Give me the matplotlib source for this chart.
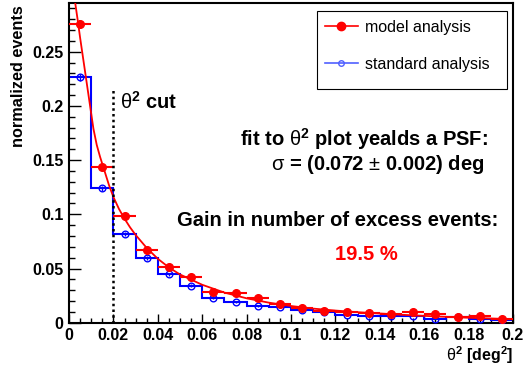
import numpy as np
import matplotlib
matplotlib.use("Agg")
import matplotlib.pyplot as plt
from matplotlib.ticker import MultipleLocator, FuncFormatter
from matplotlib.lines import Line2D
from matplotlib.patches import Rectangle

plt.rcParams["font.family"] = "Liberation Sans"
plt.rcParams["mathtext.fontset"] = "custom"
plt.rcParams["mathtext.rm"] = "Liberation Sans"
plt.rcParams["mathtext.bf"] = "Liberation Sans:bold"
plt.rcParams["mathtext.it"] = "Liberation Sans:italic"

# theta^2 bins (width 0.01 deg^2)
bin_edges = np.linspace(0, 0.2, 21)
bin_centers = 0.5 * (bin_edges[:-1] + bin_edges[1:])

model_vals = [0.2755, 0.1433, 0.098, 0.0667, 0.051, 0.0418, 0.0286, 0.0277, 0.0231, 0.0169,
              0.0138, 0.0104, 0.0102, 0.0086, 0.008, 0.0095, 0.0077, 0.0053, 0.0062, 0.0037]
model_err = [0.004, 0.003, 0.0025, 0.002, 0.0018, 0.0016, 0.0014, 0.0013, 0.0012, 0.0011,
             0.001, 0.0009, 0.0009, 0.0008, 0.0008, 0.0008, 0.0007, 0.0007, 0.0007, 0.0006]

standard_vals = [0.2263, 0.1239, 0.0818, 0.060, 0.0446, 0.0341, 0.0228, 0.0191, 0.0157, 0.0141,
                 0.012, 0.0099, 0.0074, 0.0065, 0.0065, 0.0065, 0.0037, 0.0049, 0.0034, 0.0028]
standard_err = [0.0035, 0.0025, 0.002, 0.0017, 0.0015, 0.0013, 0.0011, 0.001, 0.0009, 0.0009,
                0.0008, 0.0008, 0.0007, 0.0007, 0.0007, 0.0007, 0.0006, 0.0006, 0.0006, 0.0006]

# fitted PSF curve
fit_x = [0.0028, 0.004, 0.005, 0.0065, 0.008, 0.01, 0.011, 0.0125, 0.014, 0.016, 0.018, 0.02,
         0.0225, 0.025, 0.0275, 0.03, 0.035, 0.04, 0.045, 0.05, 0.06, 0.07, 0.08, 0.09, 0.1,
         0.11, 0.12, 0.13, 0.14, 0.15, 0.16, 0.17, 0.18, 0.19, 0.2]
fit_y = [0.295, 0.278, 0.263, 0.242, 0.221, 0.193, 0.179, 0.164, 0.153, 0.140, 0.127, 0.116,
         0.105, 0.096, 0.088, 0.081, 0.069, 0.059, 0.051, 0.0445, 0.035, 0.0278, 0.0225, 0.0185, 0.0154,
         0.013, 0.0112, 0.0097, 0.0085, 0.0073, 0.0063, 0.0054, 0.0046, 0.0039, 0.0032]

theta2_cut = 0.02
W, H = 527, 366


def fx(px):
    return px / W


def fy(py):
    return 1 - py / H


fig = plt.figure(figsize=(W / 100, H / 100), dpi=100)
ax = fig.add_axes([fx(69), fy(322.7), (513 - 69) / W, (322.7 - 3) / H])

ax.stairs(standard_vals, bin_edges, baseline=None, color="blue", lw=1.5, zorder=2)
ax.errorbar(bin_centers, standard_vals, yerr=standard_err, fmt="o", mfc="none", mec="blue",
            ecolor="blue", ms=4.8, mew=1, elinewidth=1, capsize=0, zorder=3)
ax.errorbar(bin_centers, model_vals, xerr=0.005, yerr=model_err, fmt="o", color="red",
            ms=5.5, elinewidth=1.5, capsize=0, zorder=4)
ax.plot(fit_x, fit_y, color="red", lw=1.3, zorder=5)
ax.vlines(theta2_cut, 0, 0.216, colors="black", linestyles=(0, (1, 1.3)), lw=1.8, zorder=6)

ax.set_xlim(0, 0.2)
ax.set_ylim(0, 0.295)
ax.xaxis.set_major_locator(MultipleLocator(0.02))
ax.xaxis.set_minor_locator(MultipleLocator(0.005))
ax.yaxis.set_major_locator(MultipleLocator(0.05))
ax.yaxis.set_minor_locator(MultipleLocator(0.01))
fmt = FuncFormatter(lambda v, p: "%g" % round(v, 4))
ax.xaxis.set_major_formatter(fmt)
ax.yaxis.set_major_formatter(fmt)
ax.tick_params(which="both", direction="in", width=1, labelsize=11.5)
ax.tick_params(axis="y", which="major", length=8.5, pad=4)
ax.tick_params(axis="y", which="minor", length=4.3)
ax.tick_params(axis="x", which="major", length=6.5, pad=3.5)
ax.tick_params(axis="x", which="minor", length=3.5)
for lab in ax.get_xticklabels() + ax.get_yticklabels():
    lab.set_fontweight("bold")
for sp in ax.spines.values():
    sp.set_linewidth(1.5)

fig.text(fx(18.5), fy(5), "normalized events", rotation=90, ha="center", va="top",
         fontsize=11.7, fontweight="bold")
fig.text(fx(513), fy(361), r"$\mathrm{\theta}^{\mathbf{2}}$ [deg$^{\mathbf{2}}$]", ha="right",
         va="baseline", fontsize=11.5, fontweight="bold")

fig.text(fx(120), fy(109), r"$\mathrm{\theta}^{\mathbf{2}}$ cut", ha="left", va="baseline",
         fontsize=14.5, fontweight="bold")
fig.text(fx(488), fy(146), r"fit to $\mathrm{\theta}^{\mathbf{2}}$ plot yealds a PSF:", ha="right",
         va="baseline", fontsize=14.5, fontweight="bold")
fig.text(fx(484), fy(170.5), r"$\mathrm{\sigma}$ = (0.072 $\mathrm{\pm}$ 0.002) deg", ha="right",
         va="baseline", fontsize=14.5, fontweight="bold")
fig.text(fx(498), fy(226), "Gain in number of excess events:", ha="right", va="baseline",
         fontsize=14.5, fontweight="bold")
fig.text(fx(366), fy(260), "19.5 %", ha="center", va="baseline", fontsize=14.5,
         fontweight="bold", color="red")

# legend with a ROOT-like square box
handles = [Line2D([], [], color="red", marker="o", ms=6, lw=1.2),
           Line2D([], [], color="#5060ff", marker="o", ms=4, mfc="none", lw=1.2)]
ax.legend(handles, ["model analysis", "standard analysis"], loc="upper left",
          bbox_to_anchor=(fx(325), fy(20)), bbox_transform=fig.transFigure, frameon=False,
          fontsize=11.5, borderpad=0, borderaxespad=0, handlelength=2.05, handletextpad=0.45,
          labelspacing=1.35)
fig.patches.append(Rectangle((fx(317), fy(89)), (507 - 317) / W, (89 - 11) / H,
                             transform=fig.transFigure, fill=False, ec="black", lw=0.8))

fig.savefig("out.png", dpi=100)
